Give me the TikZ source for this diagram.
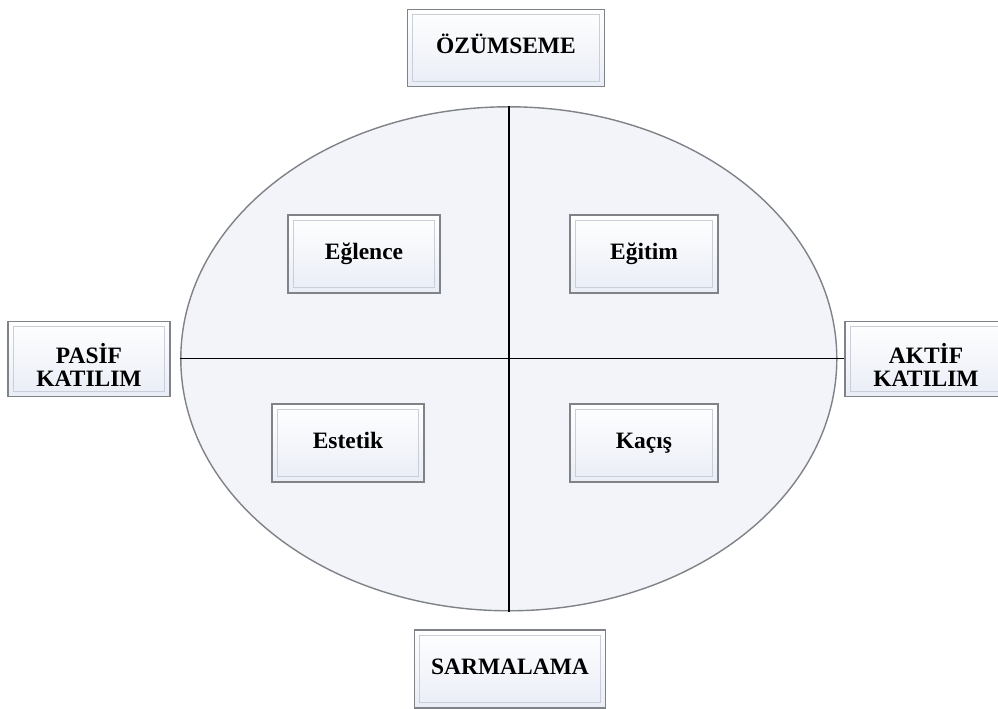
\documentclass[tikz,border=0pt]{standalone}
\usepackage{fontspec}
\setmainfont{Liberation Serif}
\usepackage{tikz}
\usetikzlibrary{shapes.geometric,positioning,calc}
\definecolor{cEdge}{HTML}{7F8287}
\definecolor{cFill}{HTML}{E9EDF6}
\definecolor{cRing}{HTML}{F2F4FA}
\definecolor{cBevel}{HTML}{C9CED9}
\newcommand{\twolines}[2]{\begin{tabular}[t]{@{}c@{}}#1\\#2\end{tabular}}

\begin{document}
\begin{tikzpicture}[
  bevelbox/.style={
    rectangle, draw=cEdge, line width=0.9pt,
    top color=white, bottom color=cFill,
    font=\fontsize{16.7}{16.3}\selectfont\bfseries,
    inner sep=0,
    path picture={
      \draw[cBevel,line width=0.6pt]
        ([shift={(0.13,-0.13)}]path picture bounding box.north west) rectangle
        ([shift={(-0.13,0.13)}]path picture bounding box.south east);
    }
  },
  oneline/.style={text height=0.85em, text depth=0.05em},
  twoline/.style={text height=0.815cm, text depth=0.6cm},
  ring/.style={
    ellipse, draw=cEdge, line width=1pt, fill=cRing,
    minimum width=16.4cm, minimum height=12.6cm, inner sep=0
  },
  axis/.style={line width=1pt, black},
]
\useasboundingbox (0,0) rectangle (24.95,17.7);
% Quadrant ellipse
\node[ring] (R) at (12.72,8.73) {};
% Axes
\draw[axis] (R.north) -- (R.south);
% Outer labels
\node[bevelbox,oneline,minimum width=4.925cm,minimum height=1.925cm] (OZ) at (12.65,16.5) {ÖZÜMSEME};
\node[bevelbox,oneline,minimum width=4.775cm,minimum height=1.95cm] (SA) at (12.75,0.975) {SARMALAMA};
\node[bevelbox,twoline,minimum width=4.05cm,minimum height=1.875cm] (PA) at (2.225,8.73) {\twolines{PASİF}{KATILIM}};
\node[bevelbox,twoline,minimum width=4.05cm,minimum height=1.875cm] (AK) at (23.15,8.73) {\twolines{AKTİF}{KATILIM}};
\draw[axis] (R.west) -- (AK.west);
% Quadrants
\node[bevelbox,oneline,minimum width=3.8cm,minimum height=1.95cm] (EG) at (9.1,11.35) {Eğlence};
\node[bevelbox,oneline,minimum width=3.7cm,minimum height=1.95cm] (ED) at (16.1,11.35) {Eğitim};
\node[bevelbox,oneline,minimum width=3.8cm,minimum height=1.95cm] (ES) at (8.7,6.625) {Estetik};
\node[bevelbox,oneline,minimum width=3.7cm,minimum height=1.95cm] (KA) at (16.1,6.625) {Kaçış};
\end{tikzpicture}
\end{document}
